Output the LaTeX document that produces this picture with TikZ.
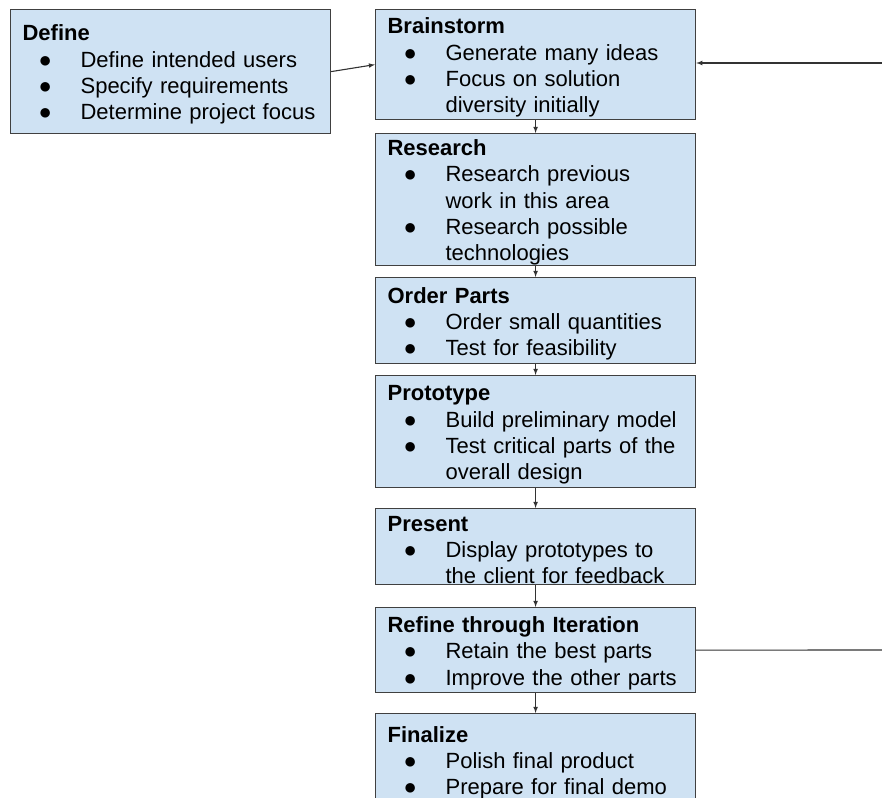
\documentclass[tikz,border=0pt]{standalone}
\usepackage{fontspec}
\setmainfont{Liberation Sans}
\usepackage{tikz}
\usetikzlibrary{positioning}

\definecolor{boxfill}{HTML}{CFE2F3}
\definecolor{boxline}{HTML}{404040}
\definecolor{arrline}{HTML}{333333}

\newcommand{\itm}{\hspace*{16pt}\makebox[42pt][l]{●}}
\newcommand{\cont}{\hspace*{58pt}}

\tikzset{
  stage/.style={draw=boxline,fill=boxfill,line width=1.2pt,anchor=north west,
    text width=296pt,inner xsep=12pt,inner ysep=0pt,align=left,
    font=\fontsize{22}{26.3}\selectfont,
    execute at begin node={\rule{0pt}{22pt}}},
  flow/.style={draw=arrline,line width=1.1pt,->},
}

\begin{document}
\begin{tikzpicture}[>=latex,x=1pt,y=-1pt]
\useasboundingbox (0,0) rectangle (882,797);
%%
\node (define) at (10,9) [stage,minimum height=124pt] {\textbf{Define}\\
  \itm Define intended users\\ \itm Specify requirements\\ \itm Determine project focus};
\node (brainstorm) at (375,9) [stage,minimum height=110pt] {\textbf{Brainstorm}\\
  \itm Generate many ideas\\ \itm Focus on solution\\ \cont diversity initially};
\node (research) at (375,133) [stage,minimum height=130pt] {\textbf{Research}\\
  \itm Research previous\\ \cont work in this area\\ \itm Research possible\\ \cont technologies};
\node (order) at (375,277) [stage,minimum height=86pt] {\textbf{Order Parts}\\
  \itm Order small quantities\\ \itm Test for feasibility};
\node (prototype) at (375,375) [stage,minimum height=112pt] {\textbf{Prototype}\\
  \itm Build preliminary model\\ \itm Test critical parts of the\\ \cont overall design};
\node (present) at (375,508) [stage,minimum height=76pt] {\textbf{Present}\\
  \itm Display prototypes to\\ \cont the client for feedback};
\node (refine) at (375,607) [stage,minimum height=85pt] {\textbf{Refine through Iteration}\\
  \itm Retain the best parts\\ \itm Improve the other parts};
\node (finalize) at (375,713) [stage,minimum height=92pt] {\textbf{Finalize}\\
  \itm Polish final product\\ \itm Prepare for final demo};
\coordinate (loop_in) at (882,63);
\coordinate (loop_out) at (882,650);
%
\draw [flow] (define.east) -- (brainstorm.west);
\draw [flow] (brainstorm) -- (research);
\draw [flow] (research) -- (order);
\draw [flow] (order) -- (prototype);
\draw [flow] (prototype) -- (present);
\draw [flow] (present) -- (refine);
\draw [flow] (refine) -- (finalize);
\draw [flow] (loop_in) -- (brainstorm.east |- loop_in);
\draw [draw=arrline,line width=1.1pt] (refine.east) -- (loop_out);
%
\end{tikzpicture}
\end{document}
